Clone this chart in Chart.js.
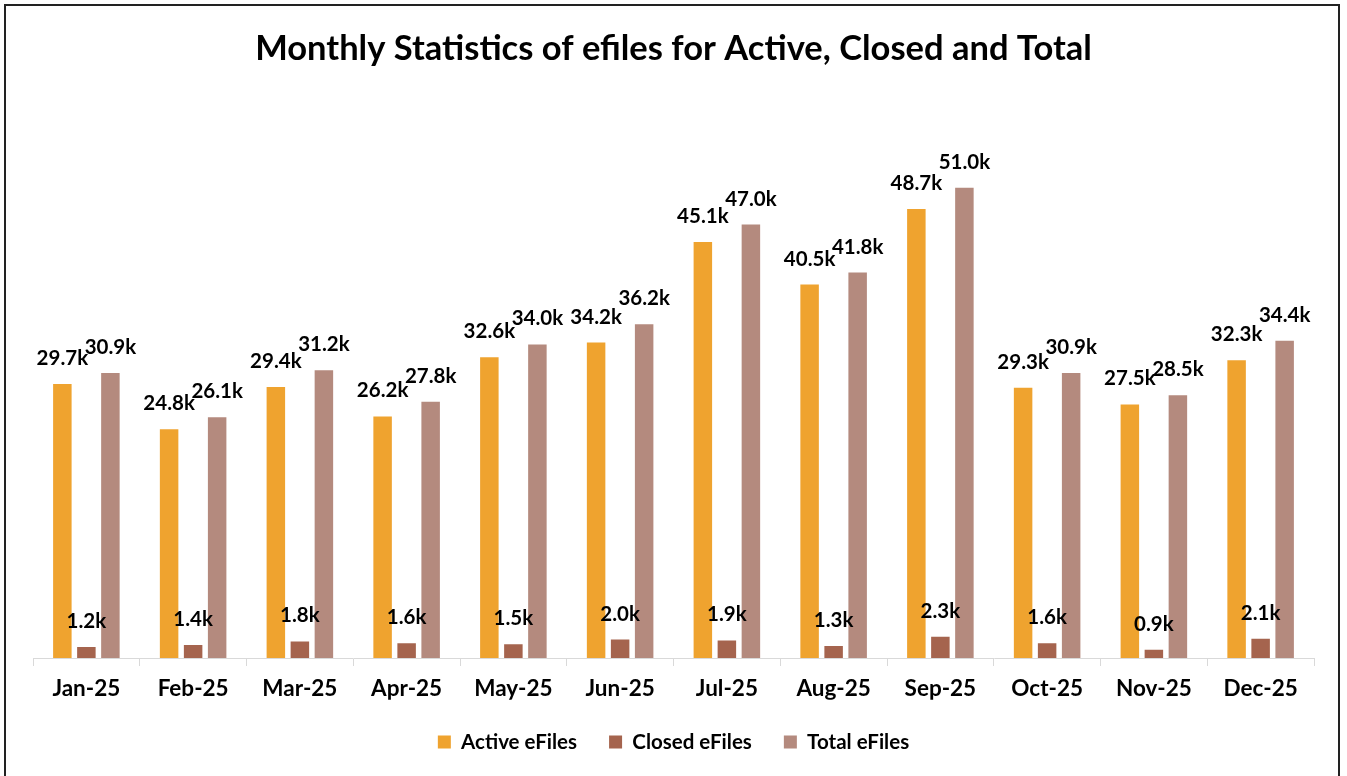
<!DOCTYPE html>
<html>
<head>
<meta charset="utf-8">
<script src="https://cdn.jsdelivr.net/npm/chart.js@4"></script>
<style>
  html, body { margin: 0; padding: 0; background: #fff; overflow: hidden; }
  .frame {
    position: absolute; left: 4px; top: 4px;
    width: 1332px; height: 790px;
    border: 2px solid #222;
  }
  .frame canvas { display: block; }
</style>
</head>
<body>
<div class="frame"><canvas id="chartEfiles" width="1332" height="780"></canvas></div>
<script>
// months shown on the x axis
const months = ['Jan-25', 'Feb-25', 'Mar-25', 'Apr-25', 'May-25', 'Jun-25',
                'Jul-25', 'Aug-25', 'Sep-25', 'Oct-25', 'Nov-25', 'Dec-25'];

// values (files)
const activeFiles = [29700, 24800, 29400, 26200, 32600, 34200, 45100, 40500, 48700, 29300, 27500, 32300];
const closedFiles = [1200, 1400, 1800, 1600, 1500, 2000, 1900, 1300, 2300, 1600, 900, 2100];
const totalFiles  = [30900, 26100, 31200, 27800, 34000, 36200, 47000, 41800, 51000, 30900, 28500, 34400];

const FONT = 'Lato, "Open Sans", sans-serif';

// value labels above each bar, placed from the bar elements
const barLabels = {
  id: 'barLabels',
  afterDatasetsDraw(chart) {
    const ctx = chart.ctx;
    ctx.save();
    ctx.font = 'bold 20.5px ' + FONT;
    ctx.fillStyle = '#000';
    ctx.textAlign = 'center';
    ctx.textBaseline = 'alphabetic';
    chart.data.datasets.forEach(function(ds, i) {
      const meta = chart.getDatasetMeta(i);
      meta.data.forEach(function(bar, j) {
        const txt = (ds.data[j] / 1000).toFixed(1) + 'k';
        ctx.fillText(txt, bar.x, bar.y - 19);
      });
    });
    ctx.restore();
  }
};

const canvas = document.getElementById('chartEfiles');
new Chart(canvas.getContext('2d'), {
  type: 'bar',
  data: {
    labels: months,
    datasets: [
      { label: 'Active eFiles', data: activeFiles, backgroundColor: '#EFA32F' },
      { label: 'Closed eFiles', data: closedFiles, backgroundColor: '#A5644E' },
      { label: 'Total eFiles',  data: totalFiles,  backgroundColor: '#B48A7E' }
    ]
  },
  options: {
    responsive: false,
    animation: false,
    datasets: { bar: { categoryPercentage: 0.675, barPercentage: 0.77 } },
    layout: { padding: { left: 27, right: 24, top: 0, bottom: 23.75 } },
    scales: {
      x: {
        grid: { drawOnChartArea: false, color: '#d9d9d9', tickLength: 8 },
        border: { color: '#d9d9d9' },
        ticks: { color: '#000', padding: 9.5, font: { family: FONT, size: 22.5, weight: 'bold' } },
        afterFit: function(scale) { scale.height = 41.75; }
      },
      y: { display: false, min: 0, max: 60000 }
    },
    plugins: {
      title: {
        display: true,
        text: 'Monthly Statistics of efiles for Active, Closed and Total',
        color: '#000',
        font: { family: FONT, size: 34.5, weight: 'bold' },
        padding: { top: 22.3, bottom: 35 }
      },
      legend: {
        position: 'bottom',
        labels: {
          color: '#000',
          boxWidth: 13, boxHeight: 13,
          padding: 32,
          font: { family: FONT, size: 20.5, weight: 'bold' }
        }
      },
      tooltip: { enabled: false }
    }
  },
  plugins: [barLabels]
});
</script>
</body>
</html>
